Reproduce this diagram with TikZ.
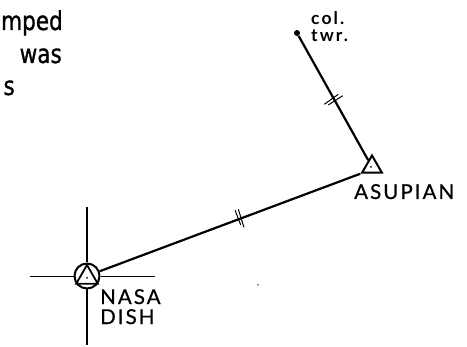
\documentclass[tikz,border=0pt]{standalone}
\usepackage{fontspec}
\usetikzlibrary{positioning,shapes.geometric}
\setmainfont[FakeBold=1.2]{DejaVu Sans}
\newfontfamily\labelfont[LetterSpace=10,FakeBold=0.6]{Lato}
\newfontfamily\smallfont[LetterSpace=12]{Lato}
\newcommand{\narrowword}[1]{\scalebox{.83}[1]{#1}}

\begin{document}
\begin{tikzpicture}[x=1pt, y=-1pt, every node/.style={inner sep=0pt},
    scrap/.style={font=\fontsize{26}{26}\selectfont, anchor=base east},
    site/.style={font=\labelfont\fontsize{20.5}{20}\selectfont, align=left},
    note/.style={font=\smallfont\bfseries\fontsize{17.5}{17}\selectfont, align=left},
    stnmark/.style={regular polygon, regular polygon sides=3, draw, line width=2pt, minimum size=23pt},
    surveyline/.style={line width=2.2pt},
    tickline/.style={line width=1pt}]
        \useasboundingbox (0,0) rectangle (467,347);

        % Cut-off text at the left edge
        \node (mped) [scrap] at (63,30) {\narrowword{mped}};
        \node (was) [scrap] at (62,63) {\narrowword{was}};
        \node (s) [scrap] at (15,95) {\narrowword{s}};

        % Stations
        \node (dish) [circle, draw, line width=2pt, minimum size=25pt] at (87,276) {};
        \node (dishmark) [stnmark, minimum size=25pt, line width=1.8pt] at (87,277.5) {};
        \node (dishdot) [circle, fill, minimum size=2pt] at (87,278) {};
        \node (asupian) [stnmark] at (372,167) {};
        \node (asupiandot) [circle, fill, minimum size=2pt] at (371,167) {};
        \node (tower) [circle, fill, minimum size=6pt] at (297,33) {};

        % Survey lines
        \coordinate (n) at (87,207);
        \coordinate (s2) at (87,345);
        \coordinate (w) at (30,276);
        \coordinate (e) at (155,276);
        \draw[line width=1.4pt] (n) -- (dish);
        \draw[line width=1.4pt] (dish) -- (s2);
        \draw[line width=0.9pt] (w) -- (dish);
        \draw[line width=0.9pt] (dish) -- (e);
        \draw[surveyline] (dish) -- (asupian.corner 2);
        \draw[surveyline] (tower) -- (asupian);

        % Tick pairs
        \draw[tickline] (235,210) -- (240.7,225);
        \draw[tickline] (238.3,209.3) -- (244,227.3);
        \draw[tickline] (324.3,104.3) -- (338.3,94.3);
        \draw[tickline] (328.3,105) -- (342.7,95.7);

        \node (speck) [circle, fill, minimum size=1.5pt] at (258,285) {};

        % Labels
        \node (dishlabel) [site, anchor=north west] at (100,289) {NASA\\DISH};
        \node (asupianlabel) [site, anchor=base west] at (354,199) {ASUPIAN};
        \node (towerlabel) [note, anchor=north west] at (311,11) {col.\\twr.};
      \end{tikzpicture}
\end{document}
